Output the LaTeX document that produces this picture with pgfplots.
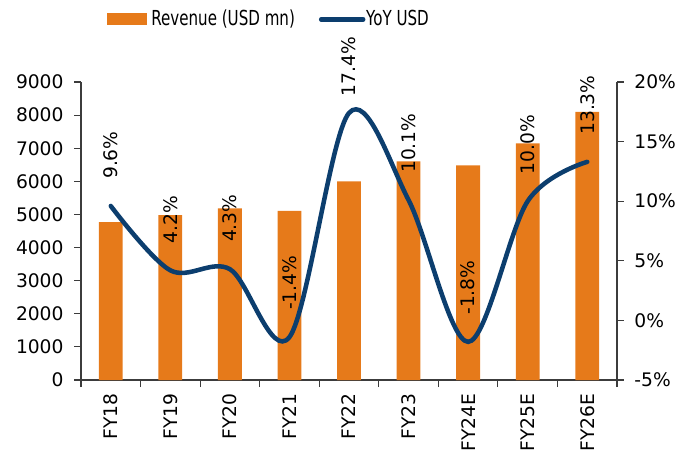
\documentclass[border=0pt]{standalone}
\usepackage{pgfplots}
\usepackage{pgfplotstable}
\usepackage{graphicx}
\usepackage{fontspec}
\setmainfont{DejaVu Sans}
\pgfplotsset{compat=1.18}
\definecolor{barorange}{RGB}{230,122,26}
\definecolor{lineblue}{RGB}{12,62,110}
\definecolor{axisgray}{RGB}{60,60,60}

\pgfplotstableread{
x rev
0 4770
1 4980
2 5180
3 5110
4 6000
5 6600
6 6480
7 7145
8 8100
}\revtab

\pgfplotstableread{
x yoy lab sh
0 9.6 9.6\% 14
1 4.2 4.2\% 14
2 4.3 4.3\% 14
3 -1.4 -1.4\% 14
4 17.4 17.4\% 6
5 10.1 10.1\% 14
6 -1.8 -1.8\% 14
7 10.0 10.0\% 14
8 13.3 13.3\% 14
}\yoytab

\begin{document}
\fontsize{14}{16}\selectfont
\begin{tikzpicture}
\begin{axis}[
  at={(0,0)}, anchor=south west,
  scale only axis, width=402pt, height=223.5pt,
  xmin=-0.5, xmax=8.5, ymin=0, ymax=9000,
  axis y line*=left, axis x line*=bottom,
  axis line style={axisgray, line width=0.8pt},
  ybar, bar width=0.4,
  xtick={0,...,8},
  xticklabels={FY18,FY19,FY20,FY21,FY22,FY23,FY24E,FY25E,FY26E},
  xticklabel style={rotate=90, anchor=east, font=\fontsize{14}{16}\selectfont},
  minor xtick={-0.5,0.5,...,8.5},
  every major x tick/.append style={draw=none},
  every minor x tick/.append style={axisgray, line width=0.8pt},
  minor tick length=5.25pt,
  ytick={0,1000,...,9000},
  tick align=outside, major tick length=5.25pt,
  tick style={axisgray, line width=0.8pt},
  yticklabel style={font=\fontsize{14}{16}\selectfont, xshift=-3pt},
  /pgf/number format/assume math mode=true,
  scaled y ticks=false,
  yticklabel={\pgfmathprintnumber[fixed,set thousands separator={}]{\tick}},
]
\addplot[fill=barorange, draw=none] table[x=x, y=rev] {\revtab};
\end{axis}
\begin{axis}[
  at={(0,0)}, anchor=south west,
  scale only axis, width=402pt, height=223.5pt,
  xmin=-0.5, xmax=8.5, ymin=-5, ymax=20,
  axis y line*=right, axis x line=none,
  axis line style={axisgray, line width=0.8pt},
  ytick={-5,0,...,20},
  tick align=outside, major tick length=5.25pt,
  tick style={axisgray, line width=0.8pt},
  /pgf/number format/assume math mode=true,
  yticklabel={\pgfmathprintnumber{\tick}\%},
  yticklabel style={font=\fontsize{14}{16}\selectfont, xshift=3pt},
  clip=false,
  legend style={at={(axis description cs:0.04,1.21)}, anchor=west, draw=none, fill=none,
    legend columns=2, font=\fontsize{15.5}{17}\selectfont,
    /tikz/every even column/.append style={column sep=16pt},
    legend cell align=left},
]
\addlegendimage{fill=barorange, draw=none, legend image code/.code={\fill[barorange] (0pt,-4.5pt) rectangle (30pt,4.5pt);}}
\addlegendentry{\hspace{1.5pt}\scalebox{0.73}[1]{Revenue (USD mn)}}
\addplot[lineblue, line width=3.4pt, line cap=round, smooth, tension=0.55,
  point meta=explicit symbolic,
  nodes near coords,
  visualization depends on={\thisrow{sh}\as\lsh},
  every node near coord/.append style={black, font=\fontsize{14}{16}\selectfont, yshift=\lsh pt, rotate=90, anchor=west},
  legend image code/.code={\draw[lineblue, line width=3.4pt, line cap=round] (0pt,0pt) -- (31.5pt,0pt);}
] table[x=x, y=yoy, meta=lab] {\yoytab};
\addlegendentry{\hspace{-1.5pt}\scalebox{0.73}[1]{YoY USD}}
\end{axis}
\pgfresetboundingbox
\path (-60.75pt,-57.75pt) rectangle (450pt,285pt);
\end{tikzpicture}
\end{document}
